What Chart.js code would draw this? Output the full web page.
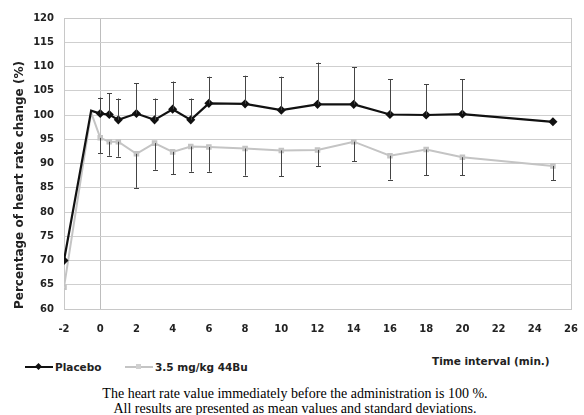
<!DOCTYPE html>
<html>
<head>
<meta charset="utf-8">
<script src="https://cdn.jsdelivr.net/npm/chart.js@4.4.1/dist/chart.umd.min.js"></script>
<style>
  html, body { margin: 0; padding: 0; background: #fff; width: 584px; height: 415px; overflow: hidden; }
  #wrap { position: absolute; left: 0; top: 0; width: 592px; height: 345px; }
  #legend { position: absolute; left: 0; top: 359px; width: 584px; height: 16px; font-family: "DejaVu Sans", sans-serif; font-weight: bold; font-size: 10.5px; color: #222; }
  .item { position: absolute; top: 0; height: 16px; line-height: 16px; white-space: nowrap; }
  .sw { position: absolute; top: 7px; height: 2px; width: 28px; }
  .mk { position: absolute; }
  #xtitle { position: absolute; left: 432px; top: 355px; font-family: "DejaVu Sans", sans-serif; font-weight: bold; font-size: 10.5px; color: #222; white-space: nowrap; }
  #caption { position: absolute; left: 0; top: 386px; width: 590px; text-align: center; font-family: "Liberation Serif", "Times New Roman", serif; font-size: 14px; line-height: 15px; color: #000; }
</style>
</head>
<body>
<div id="wrap"><canvas id="c" width="592" height="345"></canvas></div>
<div id="legend">
  <div class="item" style="left:25px;">
    <div class="sw" style="left:0;background:#111;"></div>
    <div class="mk" style="left:11px;top:5px;width:5px;height:5px;background:#111;transform:rotate(45deg);"></div>
    <span style="position:absolute;left:30px;">Placebo</span>
  </div>
  <div class="item" style="left:125px;">
    <div class="sw" style="left:0;background:#c4c4c4;"></div>
    <div class="mk" style="left:11px;top:5px;width:5px;height:5px;background:#d0d0d0;"></div>
    <span style="position:absolute;left:30px;">3.5 mg/kg 44Bu</span>
  </div>
</div>
<div id="xtitle">Time interval (min.)</div>
<div id="caption">The heart rate value immediately before the administration is 100 %.<br>All results are presented as mean values and standard deviations.</div>
<script>
// ---- data ----
const times = [-2, -0.5, 0, 0.5, 1, 2, 3, 4, 5, 6, 8, 10, 12, 14, 16, 18, 20, 25];
const placebo = [70.0, 100.9, 100.3, 100.1, 99.0, 100.3, 99.0, 101.2, 99.0, 102.4, 102.3, 101.0, 102.2, 102.2, 100.1, 100.0, 100.2, 98.6];
const placeboSD = [null, null, 3.3, 4.4, 4.4, 6.2, 4.4, 5.7, 4.4, 5.5, 5.8, 6.9, 8.6, 7.6, 7.3, 6.3, 7.2, null];
const drug = [64.5, 100.5, 95.3, 94.5, 94.5, 92.0, 94.2, 92.4, 93.5, 93.4, 93.1, 92.7, 92.8, 94.5, 91.6, 92.9, 91.3, 89.5];
const drugSD = [null, null, 3.2, 2.9, 3.1, 7.0, 5.5, 4.6, 5.2, 5.1, 5.6, 5.3, 3.3, 4.0, 4.9, 5.3, 3.7, 2.9];
const seriesNames = ["Placebo", "3.5 mg/kg 44Bu"];
const yTitle = "Percentage of heart rate change (%)";

const toPts = (ys) => times.map((t, i) => ({ x: t, y: ys[i] }));

const errorBars = {
  id: 'errorBars',
  afterDatasetsDraw(chart) {
    const { ctx, scales: { x, y } } = chart;
    const specs = [
      { vals: placebo, sd: placeboSD, dir: 1 },
      { vals: drug, sd: drugSD, dir: -1 }
    ];
    ctx.save();
    ctx.strokeStyle = '#444';
    ctx.lineWidth = 1;
    specs.forEach(s => {
      times.forEach((t, i) => {
        if (s.sd[i] == null) return;
        const px = Math.round(x.getPixelForValue(t)) + 0.5;
        const y0 = y.getPixelForValue(s.vals[i]);
        const y1 = y.getPixelForValue(s.vals[i] + s.dir * s.sd[i]);
        ctx.beginPath();
        ctx.moveTo(px, y0);
        ctx.lineTo(px, y1);
        ctx.moveTo(px - 2.5, Math.round(y1) + 0.5);
        ctx.lineTo(px + 2.5, Math.round(y1) + 0.5);
        ctx.stroke();
      });
    });
    ctx.restore();
  }
};

const frame = {
  id: 'frame',
  beforeDatasetsDraw(chart) {
    const { ctx, chartArea: a } = chart;
    ctx.save();
    ctx.strokeStyle = '#c8c8c8';
    ctx.lineWidth = 1;
    ctx.strokeRect(Math.round(a.left) + 0.5, Math.round(a.top) + 0.5, Math.round(a.right - a.left), Math.round(a.bottom - a.top));
    ctx.restore();
  }
};

new Chart(document.getElementById('c'), {
  type: 'line',
  data: {
    datasets: [
      {
        label: seriesNames[0],
        data: toPts(placebo),
        borderColor: '#111',
        backgroundColor: '#111',
        borderWidth: 2.2,
        pointStyle: 'rectRot',
        pointRadius: times.map(t => t === -0.5 ? 0 : 3),
        tension: 0,
        order: 1
      },
      {
        label: seriesNames[1],
        data: toPts(drug),
        borderColor: '#c4c4c4',
        backgroundColor: '#d0d0d0',
        borderWidth: 2,
        pointStyle: 'rect',
        pointRadius: times.map(t => t === -0.5 ? 0 : 2.5),
        tension: 0,
        order: 2
      }
    ]
  },
  options: {
    responsive: false,
    animation: false,
    layout: { padding: { top: 18, left: 0, right: 0, bottom: 0 } },
    plugins: { legend: { display: false }, tooltip: { enabled: false } },
    scales: {
      x: {
        type: 'linear',
        min: -2, max: 26,
        afterFit(s) { s.height = 36; },
        ticks: {
          stepSize: 2, autoSkip: false, maxRotation: 0, padding: 14,
          color: '#222',
          font: { family: 'DejaVu Sans', weight: 'bold', size: 10 }
        },
        grid: {
          drawTicks: false,
          color: (c) => (c.tick && c.tick.value === 0) ? '#bdbdbd' : 'rgba(0,0,0,0)',
          lineWidth: 1
        },
        border: { display: true, color: '#9a9a9a' }
      },
      y: {
        min: 60, max: 120,
        afterFit(s) { s.width = 64; },
        ticks: {
          stepSize: 5, padding: 10, color: '#222',
          font: { family: 'DejaVu Sans', weight: 'bold', size: 10 }
        },
        grid: { drawTicks: false, color: '#cfcfcf', lineWidth: 1 },
        border: { display: true, color: '#aaa' },
        title: {
          display: true, text: yTitle, align: 'start',
          color: '#222',
          font: { family: 'DejaVu Sans', weight: 'bold', size: 12 },
          padding: { top: 13, bottom: 0 }
        }
      }
    }
  },
  plugins: [frame, errorBars]
});
</script>
</body>
</html>
